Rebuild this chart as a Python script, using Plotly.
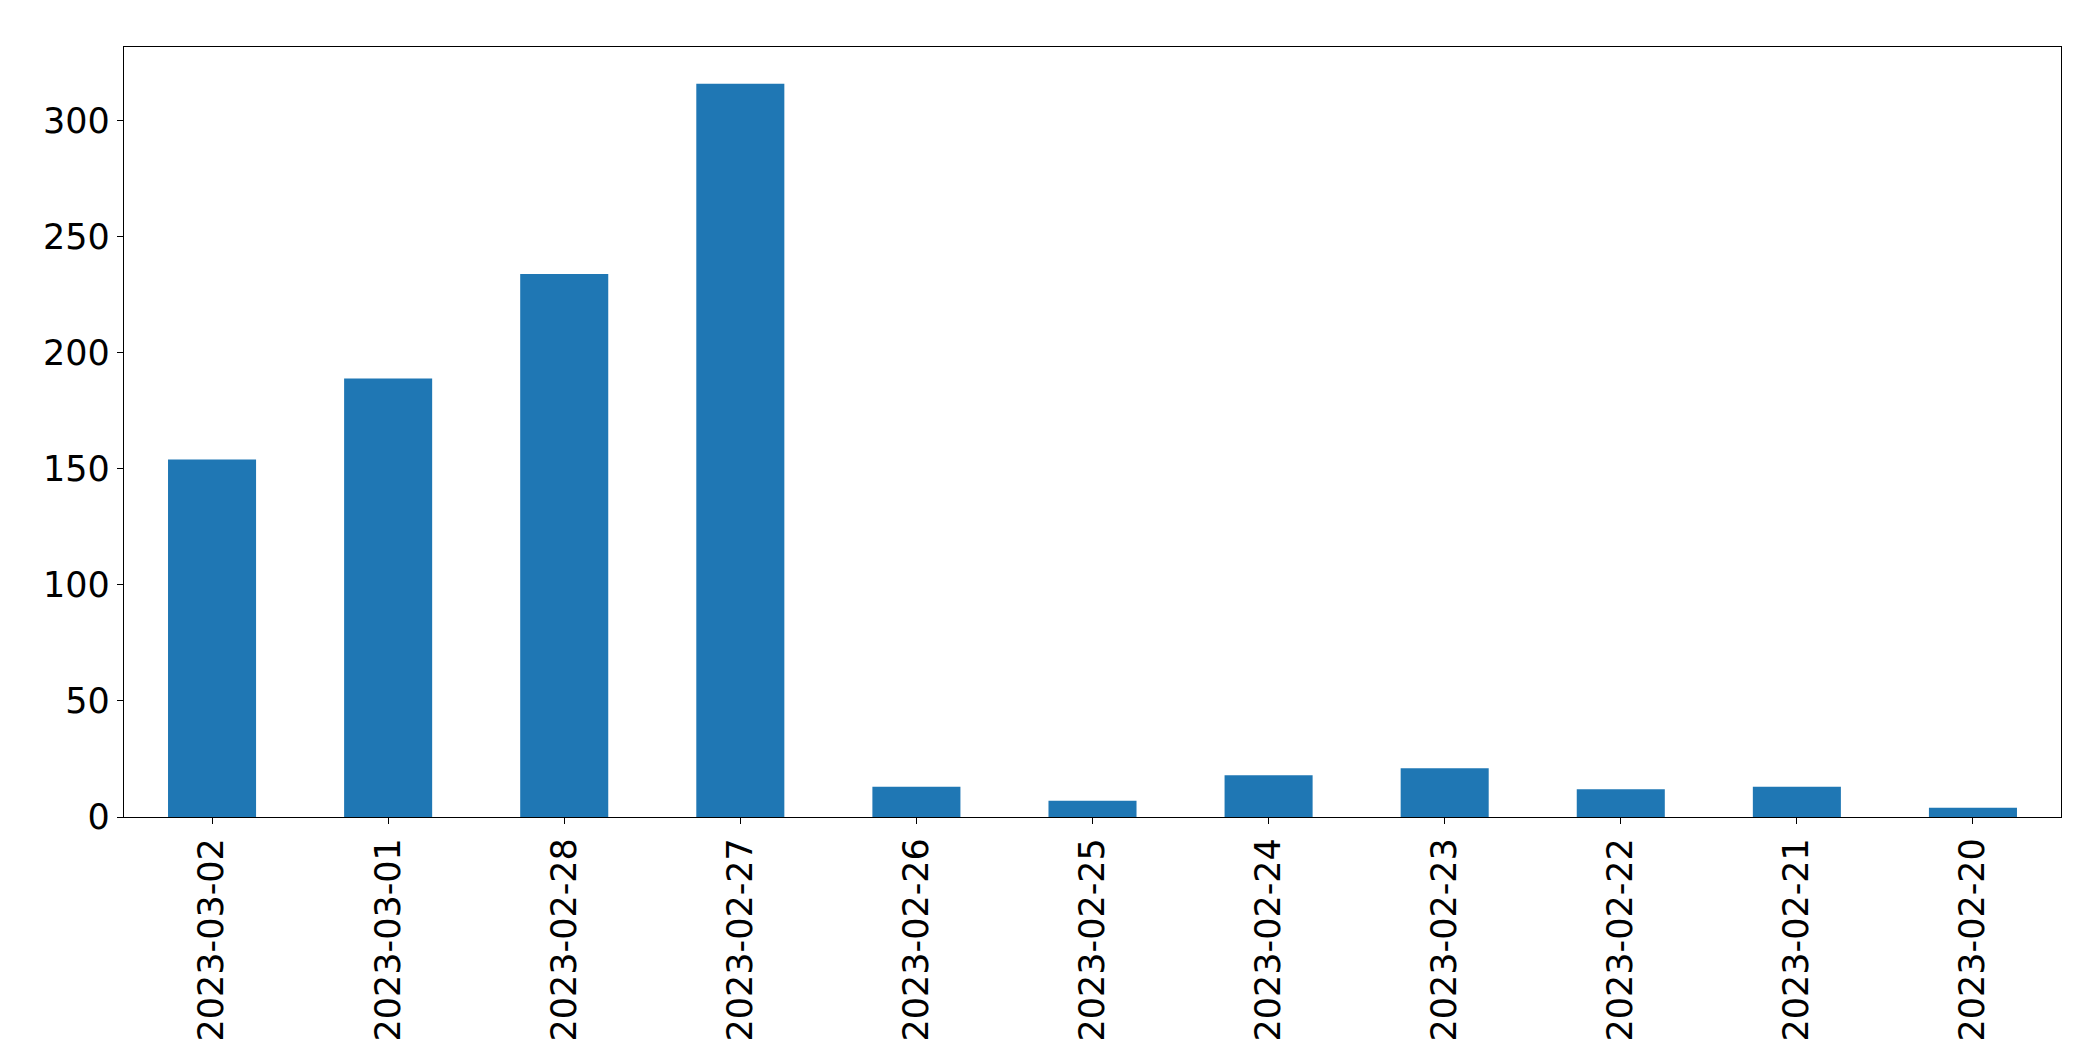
import plotly.graph_objects as go

dates = ["2023-03-02", "2023-03-01", "2023-02-28", "2023-02-27", "2023-02-26",
         "2023-02-25", "2023-02-24", "2023-02-23", "2023-02-22", "2023-02-21", "2023-02-20"]
counts = [154, 189, 234, 316, 13, 7, 18, 21, 12, 13, 4]
y_ticks = [0, 50, 100, 150, 200, 250, 300]

fig = go.Figure(go.Bar(x=dates, y=counts, width=0.5, marker=dict(color="#1f77b4", line=dict(width=0))))

fig.update_layout(
    width=2093, height=1061,
    margin=dict(l=116, r=40, t=39, b=252),
    paper_bgcolor="white", plot_bgcolor="white",
    font=dict(family="DejaVu Sans", size=35, color="black"),
    showlegend=False,
    bargap=0.5,
)
fig.update_xaxes(
    type="category", range=[-0.5, len(dates) - 0.5],
    tickangle=-90, ticks="outside", ticklen=6, tickwidth=1.3, tickcolor="black",
    showline=True, linecolor="black", linewidth=1.3, mirror=True,
    showgrid=False, zeroline=False, tickfont=dict(size=35),
)
fig.update_yaxes(
    range=[0, max(counts) * 1.05], tickvals=y_ticks,
    ticks="outside", ticklen=6, tickwidth=1.3, tickcolor="black",
    showline=True, linecolor="black", linewidth=1.3, mirror=True,
    showgrid=False, zeroline=False, tickfont=dict(size=35),
)

fig.write_html("out.html")
